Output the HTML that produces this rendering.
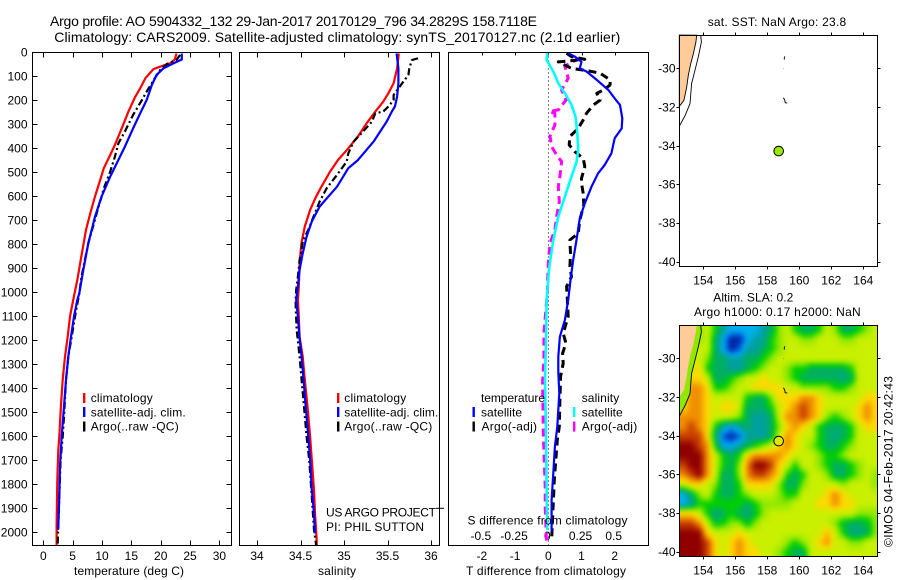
<!DOCTYPE html>
<html lang="en">
<head>
<meta charset="utf-8">
<title>Argo profile chart</title>
<style>
html,body{margin:0;padding:0;background:#fff;}
svg{display:block;}
text{font-family:"Liberation Sans",sans-serif;font-size:12px;fill:#000;}
.t14{font-size:14px;}
.f{fill:none;stroke:#000;stroke-width:1;}
</style>
</head>
<body>
<svg id="chart" xmlns="http://www.w3.org/2000/svg" width="900" height="580" viewBox="0 0 900 580">
  <rect x="0" y="0" width="900" height="580" fill="#fff"/>
  <text class="t14" x="50" y="26" textLength="487" lengthAdjust="spacing">Argo profile: AO 5904332_132 29-Jan-2017 20170129_796 34.2829S 158.7118E</text>
  <text class="t14" x="54.3" y="42" textLength="566" lengthAdjust="spacing">Climatology: CARS2009. Satellite-adjusted climatology: synTS_20170127.nc (2.1d earlier)</text>

  <g id="p1"></g>
  <g id="p2"></g>
  <g id="p3"></g>
  <g id="m1"></g>
  <g id="m2"></g>

  <g>
    <rect x="83" y="393" width="2.4" height="10" fill="#f00"/>
    <rect x="83" y="407" width="2.4" height="10" fill="#00f"/>
    <rect x="83" y="421.5" width="2.4" height="10" fill="#000"/>
    <text x="90.7" y="402" textLength="62" lengthAdjust="spacing">climatology</text>
    <text x="90.7" y="416.5" textLength="95" lengthAdjust="spacing">satellite-adj. clim.</text>
    <text x="90.7" y="430.5" textLength="88" lengthAdjust="spacing">Argo(..raw -QC)</text>
  </g>
  <g>
    <rect x="337" y="393" width="2.4" height="10" fill="#f00"/>
    <rect x="337" y="407" width="2.4" height="10" fill="#00f"/>
    <rect x="337" y="421.5" width="2.4" height="10" fill="#000"/>
    <text x="344.3" y="402" textLength="62" lengthAdjust="spacing">climatology</text>
    <text x="344.3" y="416.5" textLength="94" lengthAdjust="spacing">satellite-adj. clim.</text>
    <text x="344.3" y="430.5" textLength="88" lengthAdjust="spacing">Argo(..raw -QC)</text>
    <text x="326" y="516.5" textLength="110" lengthAdjust="spacing">US ARGO PROJECT</text>
    <text x="326" y="531" textLength="98" lengthAdjust="spacing">PI: PHIL SUTTON</text>
  </g>
  <g>
    <text x="481" y="402" textLength="64" lengthAdjust="spacing">temperature</text>
    <rect x="472.5" y="407" width="2.4" height="10" fill="#00f"/>
    <text x="481" y="416.5" textLength="41" lengthAdjust="spacing">satellite</text>
    <rect x="472.5" y="421.5" width="2.4" height="10" fill="#000"/>
    <text x="481.5" y="430.5" textLength="55.5" lengthAdjust="spacing">Argo(-adj)</text>
    <text x="581.7" y="402" textLength="37.5" lengthAdjust="spacing">salinity</text>
    <rect x="573" y="407" width="2.4" height="10" fill="#0ff"/>
    <text x="581.7" y="416.5" textLength="41" lengthAdjust="spacing">satellite</text>
    <rect x="573" y="421.5" width="2.4" height="10" fill="#f0f"/>
    <text x="581.7" y="430.5" textLength="55.5" lengthAdjust="spacing">Argo(-adj)</text>
    <text x="467.5" y="524.5" textLength="160" lengthAdjust="spacing">S difference from climatology</text>
  </g>

  <text x="129" y="575" text-anchor="middle" textLength="110" lengthAdjust="spacing">temperature (deg C)</text>
  <text x="337" y="575" text-anchor="middle" textLength="38" lengthAdjust="spacing">salinity</text>
  <text x="546" y="575" text-anchor="middle" textLength="160" lengthAdjust="spacing">T difference from climatology</text>

  <text x="707.7" y="26" textLength="138.5" lengthAdjust="spacing">sat. SST: NaN Argo: 23.8</text>
  <text x="713.3" y="301.5" textLength="80" lengthAdjust="spacing">Altim. SLA: 0.2</text>
  <text x="694" y="316" textLength="166.7" lengthAdjust="spacing">Argo h1000: 0.17 h2000: NaN</text>
  <text transform="translate(892.5 547) rotate(-90)" textLength="171" lengthAdjust="spacing">©IMOS 04-Feb-2017 20:42:43</text>
</svg>

<script>
// ---- axis tick labels ----
const depthTicks = [0,100,200,300,400,500,600,700,800,900,1000,1100,1200,1300,1400,1500,1600,1700,1800,1900,2000];
const tempTicks = [0,5,10,15,20,25,30];
const salTicks = [34,34.5,35,35.5,36];
const tDiffTicks = [-2,-1,0,1,2];
const sDiffTicks = [-0.5,-0.25,0,0.25,0.5];
const lonTicks = [154,156,158,160,162,164];
const latTicks = [-30,-32,-34,-36,-38,-40];

// ---- temperature profiles ----
const tempClimDepth = [5,30,46,60,70,108,150,188,247,317,386,428,483,532,601,664,740,844,949,1032,1101,1185,1268,1365,1476,1601,1657,1782,1976,2054];
const tempClimValue = [22.7,22.4,21.6,19.9,18.75,17.4,16.5,15.6,14.5,13.35,12.2,11.4,10.3,9.7,8.8,8.07,7.27,6.53,5.8,5.1,4.55,4.15,3.7,3.3,3.0,2.73,2.55,2.39,2.27,2.27];
const tempSatDepth = [5,30,46,67,94,136,199,254,317,393,463,518,601,685,796,907,1004,1032,1101,1185,1268,1365,1476,1601,1726,1851,1976,1990];
const tempSatValue = [23.6,23.6,22.2,20.45,19.3,18.5,17.6,16.5,15.3,13.9,12.5,11.4,9.94,8.8,7.67,6.82,6.14,5.8,5.23,4.72,4.26,3.86,3.52,3.13,2.84,2.73,2.56,2.5];
const tempArgoDepth = [11,32,49,74,108,164,199,261,330,379,435,497,567,601,671,796,935,1004,1101,1185,1268,1365,1517,1601,1698,1851,1976,2054];
const tempArgoValue = [23.3,22.7,21,19.9,19,17.6,16.8,15.3,13.9,12.8,12.2,11.4,10.3,9.94,9.1,7.67,6.5,6.14,5.4,4.83,4.26,3.86,3.52,3.3,2.95,2.73,2.56,2.44];

// ---- salinity profiles ----
const salClimDepth = [5,67,129,171,206,247,296,351,400,449,497,560,608,657,726,796,879,976,1032,1101,1185,1268,1365,1476,1601,1698,1823,1921,2032,2054];
const salClimValue = [35.63,35.61,35.57,35.51,35.45,35.36,35.26,35.16,35.05,34.93,34.84,34.74,34.67,34.61,34.55,34.51,34.49,34.48,34.47,34.48,34.49,34.525,34.55,34.58,34.61,34.63,34.655,34.667,34.686,34.686];
const salSatDepth = [5,67,129,185,226,247,289,372,449,483,560,643,705,768,838,907,976,1032,1101,1185,1268,1365,1476,1601,1698,1823,1921,2004];
const salSatValue = [35.605,35.625,35.625,35.61,35.585,35.55,35.49,35.34,35.16,35.05,34.92,34.72,34.63,34.57,34.525,34.49,34.47,34.45,34.47,34.487,34.513,34.536,34.56,34.59,34.61,34.63,34.655,34.667];
const salArgoDepth = [25,32,67,94,143,178,199,226,247,254,289,330,372,421,456,511,567,622,685,740,782,865,935,990,1032,1060,1157,1268,1365,1476,1601,1698,1851,1990,2054];
const salArgoValue = [35.85,35.78,35.75,35.74,35.64,35.57,35.57,35.51,35.45,35.36,35.32,35.22,35.11,35.05,35.03,34.92,34.8,34.72,34.65,34.59,34.53,34.49,34.47,34.45,34.445,34.445,34.456,34.49,34.513,34.54,34.57,34.6,34.63,34.655,34.68];

// ---- difference profiles ----
const dTSatDepth = [4,18,39,67,80,115,157,192,219,275,317,358,421,469,504,560,629,692,782,865,949,1032,1115,1185,1268,1331,1421,1490,1560,1643,1754,1865,1997];
const dTSatValue = [0.6,0.8,1.0,0.95,1.15,1.46,1.81,2.0,2.16,2.23,2.21,2.0,1.9,1.7,1.5,1.3,1.1,0.95,0.85,0.75,0.67,0.6,0.5,0.35,0.3,0.3,0.33,0.3,0.27,0.2,0.15,0.1,0.1];
const dTArgoDepth = [4,18,29,40,67,76,87,115,136,157,171,199,219,254,282,317,351,386,414,442,476,525,546,587,636,699,754,782,838,893,935,976,1018,1101,1171,1212,1254,1296,1351,1449,1560,1615,1782,2032];
const dTArgoValue = [0.55,0.7,1.1,0.3,0.7,1.15,1.56,1.86,1.86,1.66,1.46,1.56,1.36,1.15,1.05,0.9,0.65,0.63,0.8,1.05,1.1,1.0,1.0,1.05,1.07,0.95,0.9,0.65,0.67,0.65,0.7,0.55,0.57,0.6,0.45,0.53,0.43,0.45,0.37,0.35,0.33,0.27,0.18,0.1];
const dSSatDepth = [4,32,80,129,171,219,268,337,407,456,518,601,685,782,893,1032,1199,1365,1587,1810,1990];
const dSSatValue = [-0.0075,-0.0125,0.0375,0.075,0.125,0.175,0.205,0.218,0.225,0.213,0.175,0.125,0.075,0.0375,0.0075,-0.0125,-0.0175,-0.025,-0.0175,-0.0125,-0.0075];
const dSArgoDepth = [25,32,57,108,157,199,240,247,254,303,349,393,428,456,518,560,622,685,740,796,879,1004,1171,1282,1372,1587,1810,1893,2046];
const dSArgoValue = [0.24,0.21,0.125,0.15,0.1,0.133,0.075,0.0075,0.05,0.05,0.0125,0.025,0.0625,0.1,0.0875,0.075,0.083,0.0625,0.05,0.0125,0,-0.0075,-0.033,-0.033,-0.043,-0.038,-0.023,-0.023,-0.0125];

// ---- map geography (lon / lat) ----
const landLon = [152.5,153.59,153.54,153.38,153.21,153.06,152.96,152.79,152.54,152.5];
const landLat = [-28.28,-28.29,-28.64,-29.24,-29.76,-30.36,-30.97,-31.66,-31.93,-31.97];
const coastLon = [153.84,153.88,153.69,153.48,153.27,153.17,152.86,152.5];
const coastLat = [-28.28,-28.64,-29.41,-30.10,-30.79,-31.83,-32.44,-33.0];
const islandALon = [159.1,159.06,159.06];
const islandALat = [-29.38,-29.45,-29.55];
const islandBLon = [159.0,159.02];
const islandBLat = [-30.02,-30.02];
const islandCLon = [159.0,159.08,159.12,159.25];
const islandCLat = [-31.52,-31.62,-31.78,-31.8];
const argoLon = 158.7118;
const argoLat = -34.2829;

// ---- SLA field: colour-level estimate per 0.5deg cell, north row first ----
const slaLevels = [
 [7,7,6,7,5,3,2,2,2,2,3,4,6,7,5,4,4,5,7,6,4,4,5,6,7],
 [7,7,6,7,4,2,0,0,2,3,3,5,6,7,7,6,6,7,7,7,6,6,7,7,7],
 [7,7,7,7,4,2,0,1,3,3,4,5,6,7,7,7,7,7,7,7,7,7,7,7,7],
 [7,7,7,6,4,4,3,3,4,4,5,6,7,7,7,7,7,7,7,7,7,7,7,7,7],
 [7,7,8,5,4,4,3,3,4,5,6,7,7,6,5,5,4,4,4,4,4,5,7,7,7],
 [7,8,8,7,4,4,5,6,7,7,8,7,7,6,5,4,4,4,4,4,3.5,4,7,7,7],
 [7,9,9,8,5,5,6,7,7,8,8,8,8,7,7,6,6,6,6,5,5,6,7,7,7],
 [8,9,9,8,7,7,7,7,5,4,4,6,8,8,8,9,9,8,7,7,7,7,7,8,8],
 [8,9,9,8,7,8,8,7,4,4,4,5,7,8,9,10,9,8,7,7,7,7,8,9,8],
 [9,9,9,8,7,7,7,6,4,3,3,4,7,9,9,10,9,8,6,5,6,7,8,9,8],
 [9,10,9,8,5,3,2,3,4,3,3,4,6,8,9,8,7,5,4,4,4,5,7,8,8],
 [10,10,10,8,4,1,0,1,3,3,3,4,7,9,8,7,7,5,4,3.5,4,5,7,7,7],
 [11,11,10,9,5,2,2,3,4,5,6,7,8,9,8,7,6,5,4,4,5,6,7,7,7],
 [11,11,11,9,7,5,4,5,8,9,9,9,9,8,7,7,7,6,5,5,6,7,7,7,7],
 [10,11,11,9,7,5,4,6,9,11,11,10,8,7,5,7,7,6,5,4,4,5,6,7,7],
 [9,10,11,9,7,4,4,6,9,10,10,9,8,5,4,5,7,7,6,4,4,5,6,7,6],
 [7,8,8,7,6,4,4,5,8,8,8,8,6,4,4,6,7,7,7,7,6,7,7,7,6],
 [2,4,6,7,5,4,4,5,6,7,7,7,6,5,5,7,7,7,8,9,8,7,7,7,7],
 [2,3,5,5,5,5,5,5,4,5,6,6,6,6,7,7,7,8,8,9,8,8,7,7,7],
 [8,8,7,5,3.5,4,5,4,3.5,4.5,6,7,7,7,7,7,7,7,7,7,7,7,6,6,6],
 [10,10,9,7,4.5,5,6,6,4.5,6,7,7,7,7,7,7,7,7,7,6,4.5,4,4,4.5,6],
 [11,11,11,8,7,7,7,8,7,7,7,7,7,7,7,7,7,7,8.5,7,5,3.5,3.5,4,6],
 [11,11,11,10,8,7,8,9,8,7,7,7,7,6,5,6,7,8,9,7,7,6,6,7,7],
 [11,11,11,10,8,7,8,9,8,8,7,7,6,5,4,4,7,7,7,7,7,7,7,7,7]
];
const slaRamp = [[0,32,160],[0,96,224],[0,176,240],[0,160,160],[0,176,96],[0,208,0],[144,232,0],[200,240,0],[255,216,0],[240,144,0],[200,64,0],[144,0,0]];

// ---- axis functions ----
const PT = 52.5, PB = 545.5;
const yD = d => 52.3 + 0.24 * d;
const xT = v => 43.3 + 5.87 * v;
const xS = v => 257 + 87 * (v - 34);
const xDT = v => 548.3 + 33.2 * v;
const xDS = v => 548.3 + 132.8 * v;
const lonX = v => 703.3 + 16 * (v - 154);
const latYTop = v => 68.3 - 19.33 * (v + 30);
const latYBottom = v => 358.3 - 19.33 * (v + 30);

const NS = 'http://www.w3.org/2000/svg';
function node(tag, parent, attrs) {
  const el = document.createElementNS(NS, tag);
  for (const k in attrs) el.setAttribute(k, attrs[k]);
  parent.appendChild(el);
  return el;
}
function fr(parent, x0, y0, x1, y1, name) {
  const el = node('rect', parent, {x: x0, y: y0, width: x1 - x0, height: y1 - y0, class: 'f'});
  
  
}
function tick(parent, x1, y1, x2, y2, name) {
  const el = node('line', parent, {x1: x1, y1: y1, x2: x2, y2: y2, stroke: '#000', 'stroke-width': 1});
  
  
}
function label(parent, x, y, str, anchor, name) {
  const el = node('text', parent, {x: x, y: y, 'text-anchor': anchor});
  el.textContent = str;
  
  
}
function profile(parent, depth, value, xFn, colour, width, dash, name) {
  const pts = depth.map((d, i) => xFn(value[i]).toFixed(1) + ',' + yD(d).toFixed(1)).join(' ');
  const attrs = {points: pts, fill: 'none', stroke: colour, 'stroke-width': width, 'stroke-linejoin': 'round'};
  if (dash) attrs['stroke-dasharray'] = dash;
  const el = node('polyline', parent, attrs);
  
  
}
function geoPath(parent, lons, lats, latFn, attrs, name) {
  const pts = lons.map((v, i) => lonX(v).toFixed(1) + ',' + latFn(lats[i]).toFixed(1)).join(' ');
  const el = node(attrs.fill && attrs.fill !== 'none' ? 'polygon' : 'polyline', parent, Object.assign({points: pts}, attrs));
  
  
}

// ---- panel 1 : temperature ----
const p1 = document.getElementById('p1');
fr(p1, 32.5, PT, 231.5, PB, 'temperature-plot-frame');
depthTicks.forEach(d => {
  const y = Math.round(yD(d)) + 0.5;
  if (d > 0) {
    tick(p1, 32.5, y, 37.5, y, 'depth-tick-left');
    tick(p1, 226.5, y, 231.5, y, 'depth-tick-right');
  }
  label(p1, 27.5, yD(d) + 4.3, String(d), 'end', 'depth-tick-label');
});
tempTicks.forEach(v => {
  const x = Math.round(xT(v)) + 0.5;
  tick(p1, x, PT, x, PT + 5, 'temperature-tick-top');
  tick(p1, x, PB - 5, x, PB, 'temperature-tick-bottom');
  label(p1, xT(v), 560, String(v), 'middle', 'temperature-tick-label');
});
profile(p1, tempClimDepth, tempClimValue, xT, '#f00', 2.2, null, 'temperature-climatology-line');
profile(p1, tempArgoDepth, tempArgoValue, xT, '#000', 2.2, '7 3 2 3', 'temperature-argo-line');
profile(p1, tempSatDepth, tempSatValue, xT, '#00f', 2.2, null, 'temperature-satellite-line');

// ---- panel 2 : salinity ----
const p2 = document.getElementById('p2');
fr(p2, 239.5, PT, 439.5, PB, 'salinity-plot-frame');
salTicks.forEach(v => {
  const x = Math.round(xS(v)) + 0.5;
  tick(p2, x, PT, x, PT + 5, 'salinity-tick-top');
  tick(p2, x, PB - 5, x, PB, 'salinity-tick-bottom');
  label(p2, xS(v), 560, String(v), 'middle', 'salinity-tick-label');
});
tick(p2, 436, yD(1900), 444, yD(1900), 'stray-tick-1900');
profile(p2, salClimDepth, salClimValue, xS, '#f00', 2.2, null, 'salinity-climatology-line');
profile(p2, salArgoDepth, salArgoValue, xS, '#000', 2.2, '7 3 2 3', 'salinity-argo-line');
profile(p2, salSatDepth, salSatValue, xS, '#00f', 2.2, null, 'salinity-satellite-line');

// ---- panel 3 : differences ----
const p3 = document.getElementById('p3');
fr(p3, 448.5, PT, 648.5, PB, 'difference-plot-frame');
tDiffTicks.forEach(v => {
  const x = Math.round(xDT(v)) + 0.5;
  tick(p3, x, PT, x, PT + 3, 'difference-tick-top');
  label(p3, xDT(v), 560, String(v), 'middle', 't-difference-tick-label');
});
sDiffTicks.forEach(v => {
  label(p3, xDS(v) - 1, 540, String(v), 'middle', 's-difference-tick-label');
});
const zeroLine = node('line', p3, {x1: 548.5, y1: PT, x2: 548.5, y2: PB, stroke: '#000', 'stroke-width': 1, 'stroke-dasharray': '1 3'});


profile(p3, dSArgoDepth, dSArgoValue, xDS, '#f0f', 3, '8 5', 's-difference-argo-line');
profile(p3, dTArgoDepth, dTArgoValue, xDT, '#000', 3, '8 5', 't-difference-argo-line');
profile(p3, dTSatDepth, dTSatValue, xDT, '#00f', 2.2, null, 't-difference-satellite-line');
profile(p3, dSSatDepth, dSSatValue, xDS, '#0ff', 2.6, null, 's-difference-satellite-line');

// ---- shared map decorations ----
function mapAxes(parent, top, bottom, latFn, prefix, labelY) {
  fr(parent, 679.5, top, 877.5, bottom, prefix + '-frame');
  lonTicks.forEach(v => {
    const x = Math.round(lonX(v)) + 0.5;
    tick(parent, x, top - 3, x, top, prefix + '-lon-tick-top');
    tick(parent, x, bottom, x, bottom + 3, prefix + '-lon-tick-bottom');
    label(parent, lonX(v), labelY, String(v), 'middle', prefix + '-lon-label');
  });
  latTicks.forEach(v => {
    const y = Math.round(latFn(v)) + 0.5;
    tick(parent, 676.5, y, 679.5, y, prefix + '-lat-tick-left');
    tick(parent, 877.5, y, 880.5, y, prefix + '-lat-tick-right');
    label(parent, 675.5, latFn(v) + 4.3, String(v), 'end', prefix + '-lat-label');
  });
}
const thin = {fill: 'none', stroke: '#000', 'stroke-width': 0.9};

// ---- map 1 : SST ----
const m1 = document.getElementById('m1');
geoPath(m1, landLon, landLat, latYTop, {fill: '#ffcc99', stroke: '#000', 'stroke-width': 0.9}, 'land');
geoPath(m1, coastLon, coastLat, latYTop, thin, 'coast-contour');
geoPath(m1, islandALon, islandALat, latYTop, thin, 'island');
geoPath(m1, islandBLon, islandBLat, latYTop, thin, 'island');
geoPath(m1, islandCLon, islandCLat, latYTop, thin, 'island');
const mark1 = node('circle', m1, {cx: lonX(argoLon), cy: latYTop(argoLat), r: 4.8, fill: '#99e800', stroke: '#000', 'stroke-width': 1});


mapAxes(m1, 35.5, 266.5, latYTop, 'sst-map', 284.5);

// ---- map 2 : SLA heatmap (levels shaded smoothly between cell centres) ----
const m2 = document.getElementById('m2');
const defs = node('defs', m2, {});
const clip = node('clipPath', defs, {id: 'slaClip'});
node('rect', clip, {x: 679.5, y: 325.5, width: 198, height: 231});
const soft = node('filter', defs, {id: 'slaSoft', filterUnits: 'userSpaceOnUse', x: 660, y: 305, width: 240, height: 270, 'color-interpolation-filters': 'sRGB'});
node('feGaussianBlur', soft, {stdDeviation: 2});
const clipG = node('g', m2, {'clip-path': 'url(#slaClip)'});


const softG = node('g', clipG, {filter: 'url(#slaSoft)'});
const latTopEdge = -28.28;
const SUB = 3;
const PAD = 2;
function levelAt(u, v) {
  const nr = slaLevels.length, nc = slaLevels[0].length;
  const cu = Math.max(0, Math.min(nc - 1.001, u)), cv = Math.max(0, Math.min(nr - 1.001, v));
  const i = Math.floor(cu), j = Math.floor(cv);
  const fu = cu - i, fv = cv - j;
  const a = slaLevels[j][i], b = slaLevels[j][i + 1], c = slaLevels[j + 1][i], d = slaLevels[j + 1][i + 1];
  return (a * (1 - fu) + b * fu) * (1 - fv) + (c * (1 - fu) + d * fu) * fv;
}
function rampColour(l) {
  const k = Math.max(0, Math.min(slaRamp.length - 1.001, l));
  const n = Math.floor(k), f = k - n;
  const p = slaRamp[n], q = slaRamp[n + 1];
  return 'rgb(' + Math.round(p[0] + (q[0] - p[0]) * f) + ',' + Math.round(p[1] + (q[1] - p[1]) * f) + ',' + Math.round(p[2] + (q[2] - p[2]) * f) + ')';
}
const nRows = slaLevels.length * SUB, nCols = slaLevels[0].length * SUB;
for (let r = -PAD; r < nRows + PAD; r++) {
  for (let c = -PAD; c < nCols + PAD; c++) {
    const x0 = lonX(152.5 + 0.5 * c / SUB), x1 = lonX(152.5 + 0.5 * (c + 1) / SUB);
    const y0 = latYBottom(latTopEdge - 0.5 * r / SUB), y1 = latYBottom(latTopEdge - 0.5 * (r + 1) / SUB);
    const cell = node('rect', softG, {
      x: x0.toFixed(2), y: y0.toFixed(2),
      width: (x1 - x0 + 0.4).toFixed(2), height: (y1 - y0 + 0.4).toFixed(2),
      fill: rampColour(levelAt((c + 0.5) / SUB - 0.5, (r + 0.5) / SUB - 0.5))
    });
    
    
  }
}
geoPath(m2, coastLon.concat([152.5, 153.84]), coastLat.concat([-28.28, -28.28]), latYBottom, {fill: '#90e800'}, 'coastal-shelf');
geoPath(m2, landLon, landLat, latYBottom, {fill: '#ffcc99'}, 'land');
geoPath(m2, coastLon, coastLat, latYBottom, thin, 'coast-contour');
geoPath(m2, islandALon, islandALat, latYBottom, thin, 'island');
geoPath(m2, islandBLon, islandBLat, latYBottom, thin, 'island');
geoPath(m2, islandCLon, islandCLat, latYBottom, thin, 'island');
const mark2 = node('circle', m2, {cx: lonX(argoLon), cy: latYBottom(argoLat), r: 4.8, fill: '#e0e800', stroke: '#000', 'stroke-width': 1});


mapAxes(m2, 325.5, 556.5, latYBottom, 'sla-map', 574.5);
</script>
</body>
</html>
